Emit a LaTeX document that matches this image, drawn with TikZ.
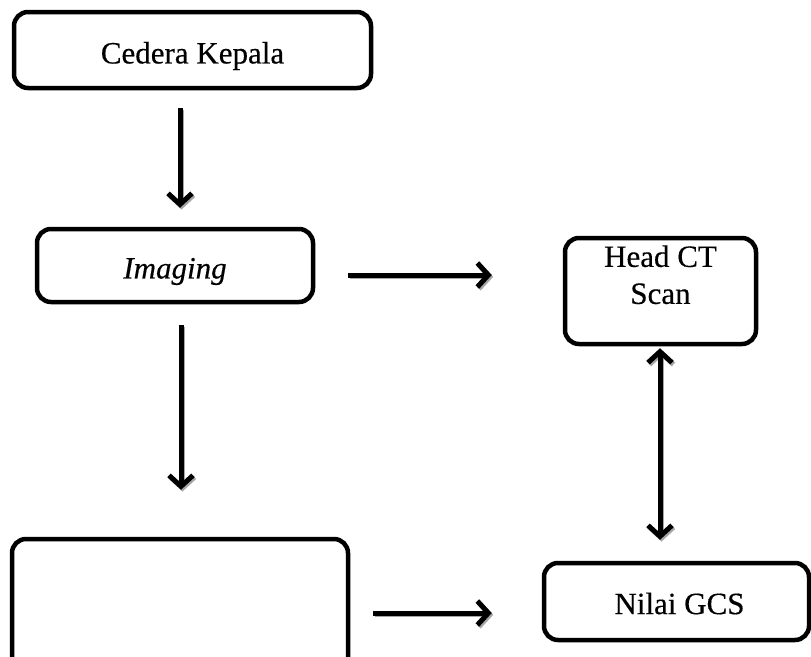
\documentclass[tikz,border=0pt]{standalone}
\usepackage{fontspec}
\setmainfont{Liberation Serif}[FakeBold=0.4]
\usetikzlibrary{arrows.meta}
\newcommand{\lowertext}[2]{\raisebox{#1}[\height][\depth]{#2}}
\tikzset{
  box/.style={draw=black, line width=4.5pt, rounded corners=14pt, inner sep=0pt,
    font=\fontsize{31}{37}\selectfont, align=center},
  barb/.tip={Straight Barb[length=11pt,width=24pt,line width=5pt]},
  arr/.style={draw=black, line width=5pt, -barb},
  arrshadow/.style={draw=black!35, line width=5pt, -barb,
    transform canvas={shift={(1.5pt,-1.8pt)}}},
  darr/.style={draw=black, line width=5pt, barb-barb},
  darrshadow/.style={draw=black!35, line width=5pt, barb-barb,
    transform canvas={shift={(1.5pt,-1.8pt)}}},
}
\begin{document}
\begin{tikzpicture}[x=1pt,y=-1pt]
\useasboundingbox (0,0) rectangle (811,656);
\clip (0,0) rectangle (811,656);
\fill[white] (0,0) rectangle (811,656);

\node[box, minimum width=357pt, minimum height=76pt] (kepala) at (192.5,50) {\lowertext{-6pt}{Cedera Kepala}};
\node[box, minimum width=276pt, minimum height=73pt] (imaging) at (175,265.5) {\lowertext{-6pt}{\itshape Imaging}};
\node[box, minimum width=191pt, minimum height=106pt] (ct) at (660.5,291) {\lowertext{13pt}{\begin{tabular}{@{}c@{}}Head CT\\Scan\end{tabular}}};
\node[box, minimum width=336pt, minimum height=140pt] (kosong) at (180,609) {};
\node[box, minimum width=265pt, minimum height=77pt] (gcs) at (676.5,601.5) {\lowertext{-2pt}{\hspace*{6pt}Nilai GCS}};

\coordinate (xa) at (180,0);
\coordinate (xb) at (181,0);
\coordinate (xc) at (660,0);
\coordinate (ya) at (0,275);
\coordinate (yb) at (0,613);

\foreach \s in {arrshadow,arr} {
  \draw[\s, shorten <=18pt, shorten >=19pt] (kepala.south -| xa) -- (imaging.north -| xa);
  \draw[\s, shorten <=33pt, shorten >=71pt] (imaging.east |- ya) -- (ct.west |- ya);
  \draw[\s, shorten <=21pt, shorten >=47pt] (imaging.south -| xb) -- (kosong.north -| xb);
  \draw[\s, shorten <=23pt, shorten >=50pt] (kosong.east |- yb) -- (gcs.west |- yb);
}
\foreach \s in {darrshadow,darr} {
  \draw[\s, shorten <=2pt, shorten >=21pt] (ct.south -| xc) -- (gcs.north -| xc);
}
\end{tikzpicture}
\end{document}
